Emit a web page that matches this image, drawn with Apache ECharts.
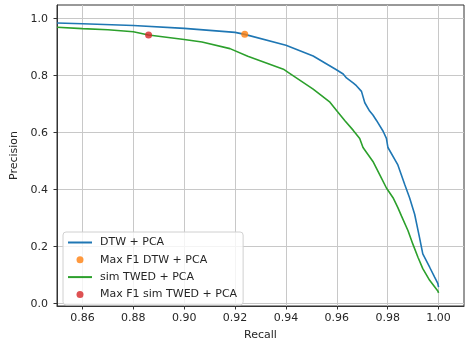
<!DOCTYPE html>
<html>
<head>
<meta charset="utf-8">
<script src="https://cdn.jsdelivr.net/npm/echarts@6/dist/echarts.min.js"></script>
<style>
  html, body { margin: 0; padding: 0; background: #fff; }
  #chart { width: 466px; height: 346px; }
</style>
</head>
<body>
<div id="chart"></div>
<script>
// precision-recall curves
const dtwRecall = [0.850, 0.860, 0.880, 0.900, 0.920, 0.9238, 0.940, 0.9507, 0.960, 0.9625, 0.9638, 0.9664, 0.9677, 0.9697, 0.9710, 0.9729, 0.9742, 0.9756, 0.9782, 0.9795, 0.9801, 0.9840, 0.9867, 0.9886, 0.9906, 0.9925, 0.9938, 0.9965, 0.9984, 0.9997, 1.000];
const dtwPrecision = [0.985, 0.982, 0.976, 0.966, 0.952, 0.945, 0.907, 0.869, 0.820, 0.806, 0.792, 0.775, 0.765, 0.745, 0.705, 0.676, 0.662, 0.643, 0.605, 0.580, 0.548, 0.487, 0.418, 0.372, 0.314, 0.233, 0.175, 0.128, 0.094, 0.071, 0.058];

const twedRecall = [0.850, 0.860, 0.870, 0.880, 0.886, 0.900, 0.907, 0.918, 0.925, 0.939, 0.941, 0.9507, 0.9573, 0.9599, 0.9631, 0.9664, 0.9690, 0.9703, 0.9742, 0.9769, 0.9795, 0.9821, 0.9840, 0.9854, 0.9880, 0.9899, 0.9919, 0.9938, 0.9965, 0.9997, 1.000];
const twedPrecision = [0.970, 0.965, 0.961, 0.954, 0.943, 0.927, 0.918, 0.895, 0.868, 0.823, 0.811, 0.753, 0.707, 0.678, 0.643, 0.609, 0.580, 0.548, 0.499, 0.452, 0.406, 0.372, 0.337, 0.308, 0.256, 0.209, 0.163, 0.123, 0.082, 0.045, 0.038];

const maxF1Dtw = [0.9238, 0.945];
const maxF1Twed = [0.886, 0.943];

const xTicks = [0.86, 0.88, 0.90, 0.92, 0.94, 0.96, 0.98, 1.00];
const yTicks = [0.0, 0.2, 0.4, 0.6, 0.8, 1.0];

const pairs = (xs, ys) => xs.map((x, i) => [x, ys[i]]);

const chart = echarts.init(document.getElementById('chart'), null, { renderer: 'canvas' });

const font = 'DejaVu Sans';
const ink = '#262626';

chart.setOption({
  animation: false,
  textStyle: { fontFamily: font },
  grid: {
    left: 57, right: 2, top: 5, bottom: 37,
    show: true, borderColor: '#333', borderWidth: 1, backgroundColor: 'transparent'
  },
  legend: {
    orient: 'vertical',
    left: 63, top: 232,
    padding: [4, 6, 4, 4],
    itemGap: 4.3,
    itemWidth: 24,
    itemHeight: 7,
    backgroundColor: 'rgba(255,255,255,0.8)',
    borderColor: '#d0d0d0',
    borderWidth: 1,
    borderRadius: 3,
    textStyle: { fontFamily: font, fontSize: 11, color: ink, lineHeight: 13, padding: [0, 0, 0, 3] },
    data: [
      { name: 'DTW + PCA', itemStyle: { opacity: 0 } },
      { name: 'Max F1 DTW + PCA', icon: 'circle' },
      { name: 'sim TWED + PCA', itemStyle: { opacity: 0 } },
      { name: 'Max F1 sim TWED + PCA', icon: 'circle' }
    ]
  },
  xAxis: {
    type: 'value',
    min: 0.85, max: 1.01,
    name: 'Recall',
    nameLocation: 'middle',
    nameGap: 24,
    nameTextStyle: { fontFamily: font, fontSize: 11, color: ink },
    axisLine: { show: true, onZero: false, lineStyle: { color: '#333', width: 1 } },
    axisTick: { show: true, length: 3.5, customValues: xTicks, lineStyle: { color: '#333' } },
    axisLabel: {
      customValues: xTicks, margin: 7,
      fontFamily: font, fontSize: 11, color: ink,
      formatter: v => v.toFixed(2)
    },
    splitLine: { show: true, lineStyle: { color: '#c8c8c8', width: 1 } }
  },
  yAxis: {
    type: 'value',
    min: -0.008, max: 1.048,
    name: 'Precision',
    nameLocation: 'middle',
    nameGap: 36,
    nameRotate: 90,
    nameTextStyle: { fontFamily: font, fontSize: 11, color: ink },
    axisLine: { show: true, onZero: false, lineStyle: { color: '#333', width: 1 } },
    axisTick: { show: true, length: 3.5, customValues: yTicks, lineStyle: { color: '#333' } },
    axisLabel: {
      customValues: yTicks, margin: 9,
      fontFamily: font, fontSize: 11, color: ink,
      formatter: v => v.toFixed(1)
    },
    splitLine: { show: true, lineStyle: { color: '#c8c8c8', width: 1 } }
  },
  series: [
    {
      name: 'DTW + PCA', type: 'line', data: pairs(dtwRecall, dtwPrecision),
      symbol: 'none', color: '#1f77b4', lineStyle: { width: 1.6 }, z: 2
    },
    {
      name: 'Max F1 DTW + PCA', type: 'scatter', data: [maxF1Dtw],
      symbolSize: 7, color: '#ff7f0e', z: 3
    },
    {
      name: 'sim TWED + PCA', type: 'line', data: pairs(twedRecall, twedPrecision),
      symbol: 'none', color: '#2ca02c', lineStyle: { width: 1.6 }, z: 4
    },
    {
      name: 'Max F1 sim TWED + PCA', type: 'scatter', data: [maxF1Twed],
      symbolSize: 7, color: '#d62728', z: 5
    }
  ]
});
</script>
</body>
</html>
